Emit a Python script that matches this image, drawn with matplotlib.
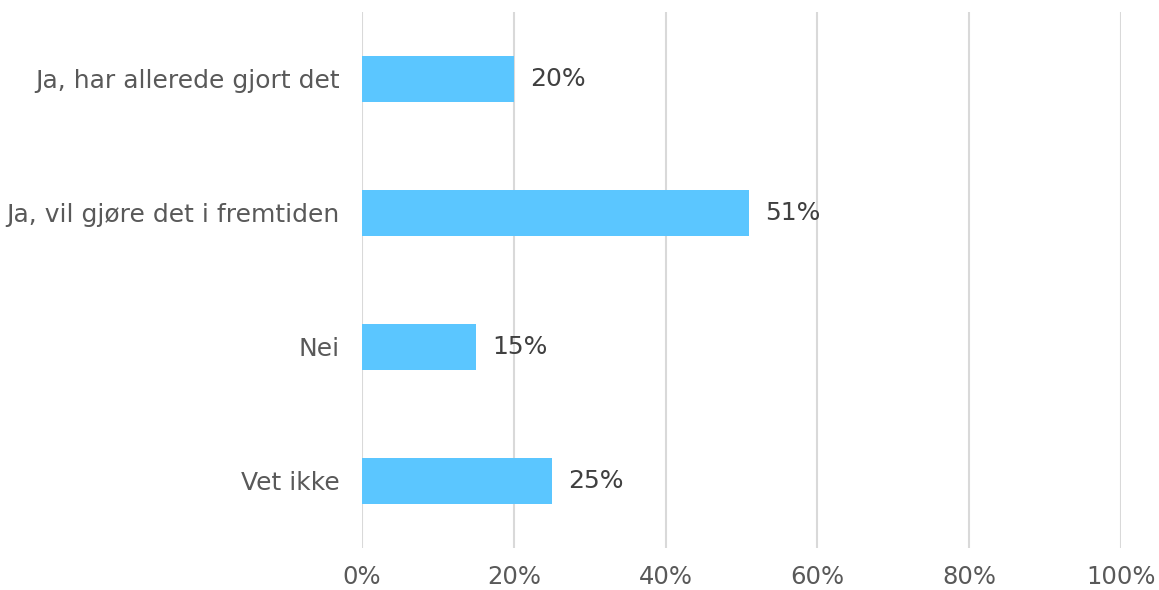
import matplotlib
matplotlib.use("Agg")
import matplotlib.pyplot as plt
from matplotlib.ticker import PercentFormatter

categories = ["Ja, har allerede gjort det", "Ja, vil gjøre det i fremtiden", "Nei", "Vet ikke"]
values = [20, 51, 15, 25]
xticks = [0, 20, 40, 60, 80, 100]

plt.rcParams["font.family"] = ["DejaVu Sans"]

fig = plt.figure(figsize=(11.59, 5.90), dpi=100)
ax = fig.add_axes([0.3123, 0.0712, 0.9672 - 0.3123, 0.9797 - 0.0712])

ypos = list(range(len(categories)))
ax.barh(ypos, values, height=0.35, color="#5BC6FF", zorder=3)
for y, v in zip(ypos, values):
    ax.annotate(f"{v}%", (v, y), xytext=(16, 0), textcoords="offset pixels",
                va="center", ha="left", fontsize=18, color="#404040")

ax.set_xlim(0, 100)
ax.set_ylim(len(categories) - 0.5, -0.5)
ax.set_yticks(ypos)
ax.set_yticklabels(categories, fontsize=18)
ax.set_xticks(xticks)
ax.xaxis.set_major_formatter(PercentFormatter(decimals=0))
ax.tick_params(axis="both", length=0, labelcolor="#595959")
ax.tick_params(axis="x", pad=12, labelsize=17.5)
ax.tick_params(axis="y", pad=16)
ax.grid(axis="x", color="#D9D9D9", linewidth=1.5, zorder=0)
for s in ax.spines.values():
    s.set_visible(False)

fig.savefig("out.png", dpi=100)
